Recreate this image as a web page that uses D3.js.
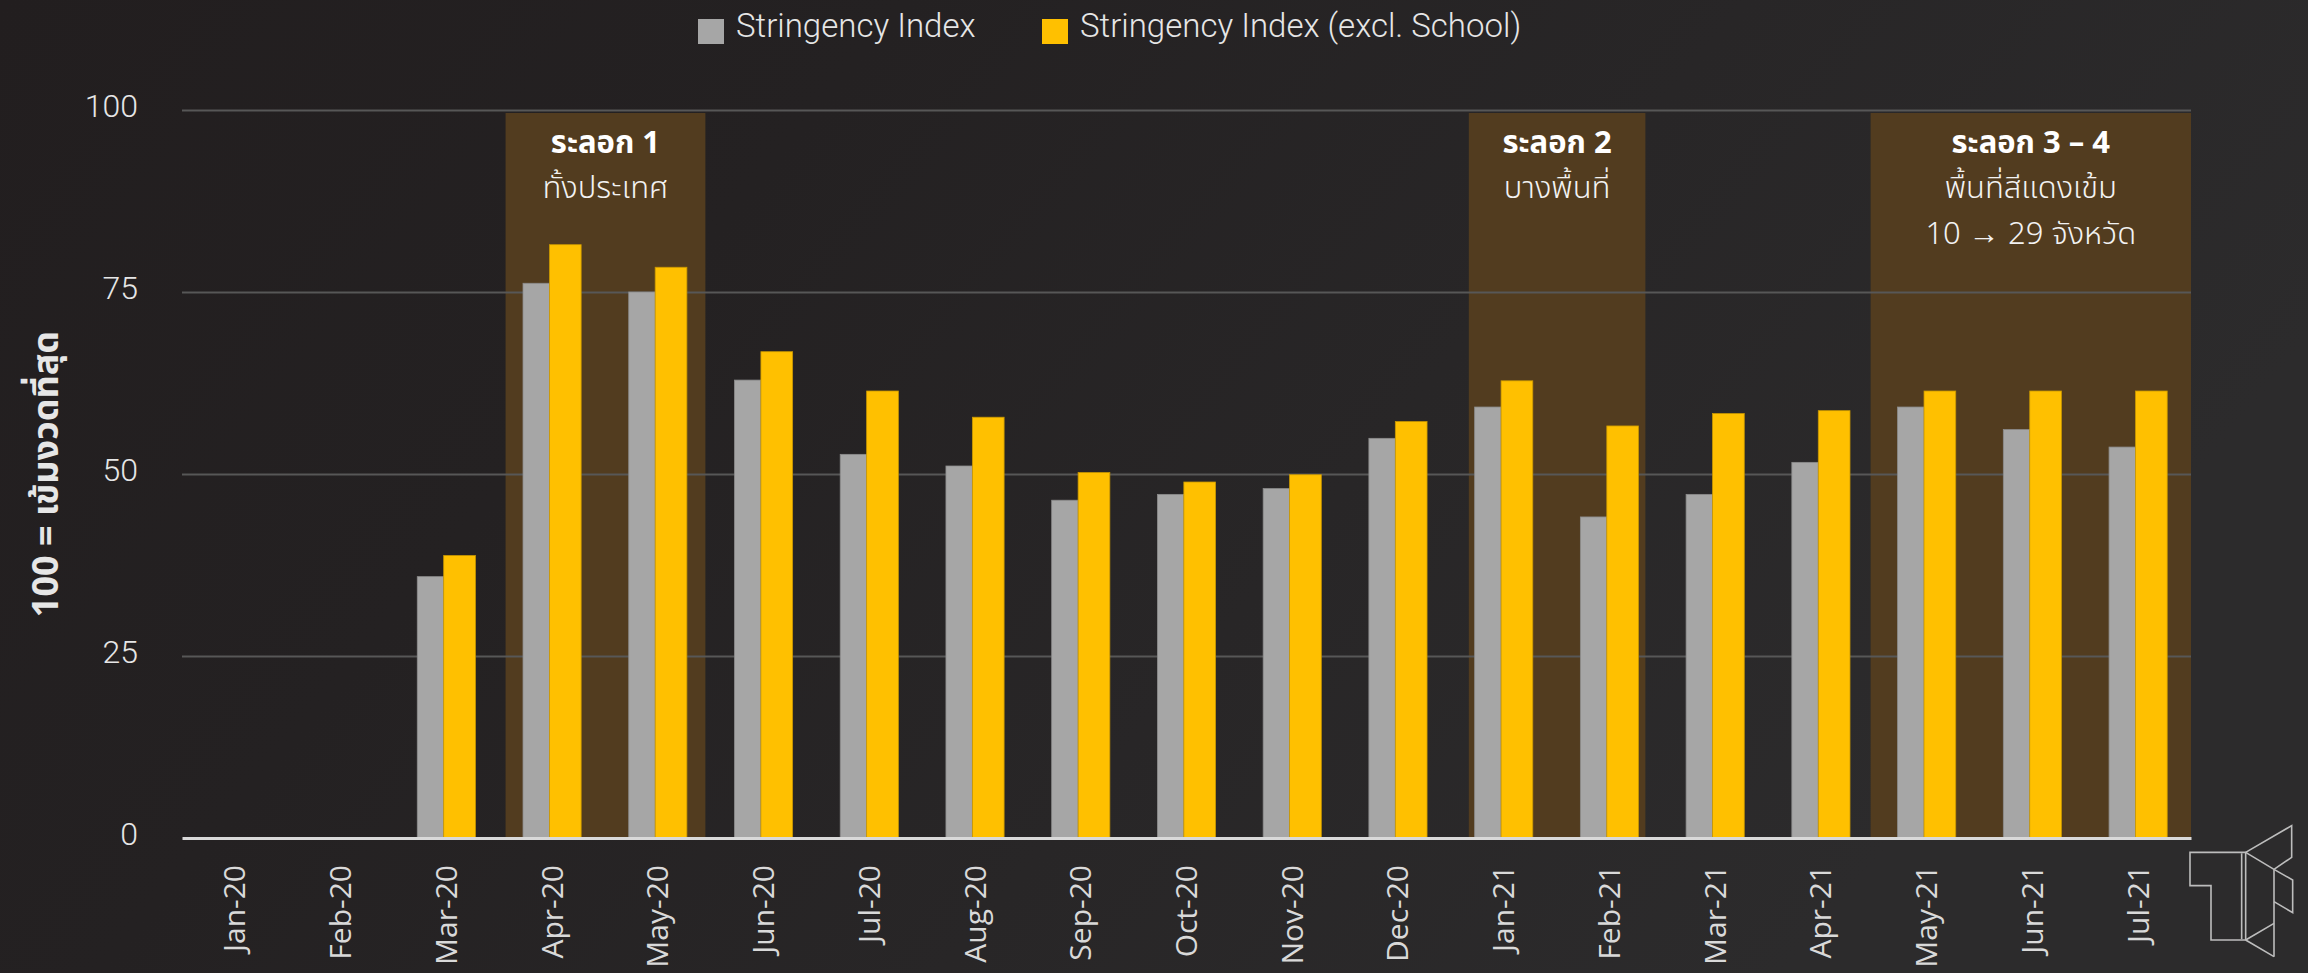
<!DOCTYPE html>
<html>
<head>
<meta charset="utf-8">
<script src="https://cdn.jsdelivr.net/npm/d3@7/dist/d3.min.js"></script>
<style>
  html, body { margin: 0; padding: 0; background: #232021; }
  svg { display: block; }
</style>
</head>
<body>
<script>
// ---------------- DATA ----------------
const months = ["Jan-20","Feb-20","Mar-20","Apr-20","May-20","Jun-20","Jul-20","Aug-20","Sep-20","Oct-20",
                "Nov-20","Dec-20","Jan-21","Feb-21","Mar-21","Apr-21","May-21","Jun-21","Jul-21"];
const stringencyIndex = [0,0,35.9,76.2,75.0,62.9,52.7,51.1,46.4,47.2,48.0,54.9,59.2,44.1,47.2,51.6,59.2,56.1,53.7];
const stringencyExclSchool = [0,0,38.8,81.5,78.4,66.8,61.4,57.8,50.2,48.9,49.9,57.2,62.8,56.6,58.3,58.7,61.4,61.4,61.4];
const seriesNames = ["Stringency Index", "Stringency Index (excl. School)"];
const yTicks = [0, 25, 50, 75, 100];
const yTitle = "100 = เข้มงวดที่สุด";
// lockdown waves: span in month-index units
const waveTitles = ["ระลอก 1", "ระลอก 2", "ระลอก 3 – 4"];
const waveSubtitles = [["ทั้งประเทศ"], ["บางพื้นที่"], ["พื้นที่สีแดงเข้ม", "10 → 29 จังหวัด"]];
const waveFrom = [3.06, 12.17, 15.97];
const waveTo = [4.95, 13.84, 19.0];

// ---------------- LAYOUT ----------------
const W = 2308, H = 973;
const plot = { left: 182, right: 2191, top: 110, bottom: 838 };
const colors = { grey: "#a6a6a6", yellow: "#ffc000", wave: "#523c1f" };
const thin = "Roboto, 'Noto Sans', sans-serif";
const thai = "'Noto Sans Thai', 'Noto Sans Thai Looped', Roboto, 'Noto Sans', sans-serif";

const svg = d3.select("body").append("svg").attr("width", W).attr("height", H);

const defs = svg.append("defs");
const grad = defs.append("linearGradient").attr("id", "bg")
  .attr("x1", "0").attr("y1", "0").attr("x2", "1").attr("y2", "0.35");
grad.append("stop").attr("offset", "0").attr("stop-color", "#221e1f");
grad.append("stop").attr("offset", "0.35").attr("stop-color", "#242122");
grad.append("stop").attr("offset", "1").attr("stop-color", "#2c2b2c");
svg.append("rect").attr("width", W).attr("height", H).attr("fill", "url(#bg)");

const x = d3.scaleBand().domain(months).range([plot.left, plot.right]).paddingInner(0).paddingOuter(0);
const xPos = d3.scaleLinear().domain([0, months.length]).range([plot.left, plot.right]);
const y = d3.scaleLinear().domain([0, 100]).range([plot.bottom, plot.top]);
const bw = x.bandwidth();

// wave shading
const waves = waveTitles.map((t, i) => ({ title: t, sub: waveSubtitles[i], from: waveFrom[i], to: waveTo[i] }));
const wg = svg.append("g");
wg.selectAll("rect").data(waves).join("rect")
  .attr("x", d => xPos(d.from))
  .attr("width", d => xPos(d.to) - xPos(d.from))
  .attr("y", y(100) + 3)
  .attr("height", d => y(0) - y(100) - 3)
  .attr("fill", colors.wave);

// gridlines
const yAxis = d3.axisLeft(y).tickValues(yTicks).tickSize(-(plot.right - plot.left)).tickFormat(d3.format("d")).tickPadding(44);
const ga = svg.append("g").attr("transform", `translate(${plot.left},0)`).call(yAxis);
ga.select(".domain").remove();
ga.selectAll(".tick line").attr("stroke", "#575757").attr("stroke-width", 2);
ga.selectAll(".tick text")
  .attr("fill", "#e6e6e6").attr("font-family", thin).attr("font-weight", 300)
  .attr("font-size", 32).attr("dy", "0.2em");
ga.selectAll(".tick").filter(d => d === 0).select("line").remove();

// bars
const series = [
  { name: seriesNames[0], values: stringencyIndex, color: colors.grey, stroke: "#8c8c8c", off: -0.275, w: 0.25 },
  { name: seriesNames[1], values: stringencyExclSchool, color: colors.yellow, stroke: "#c99700", off: -0.025, w: 0.3 }
];
series.forEach(s => {
  svg.append("g").selectAll("rect").data(months.map((m, i) => ({ m, v: s.values[i] })).filter(d => d.v > 0))
    .join("rect")
    .attr("x", d => x(d.m) + bw / 2 + s.off * bw)
    .attr("width", s.w * bw)
    .attr("y", d => y(d.v))
    .attr("height", d => y(0) - y(d.v))
    .attr("fill", s.color)
    .attr("stroke", s.stroke).attr("stroke-width", 0.8);
});

// x axis
const xAxis = d3.axisBottom(x).tickSize(0).tickPadding(0);
const gx = svg.append("g").attr("transform", `translate(0,${plot.bottom})`).call(xAxis);
gx.select(".domain").attr("stroke", "#d9d9d9").attr("stroke-width", 3);
gx.selectAll(".tick text")
  .attr("fill", "#d9d9d9").attr("font-family", "'Open Sans', 'Noto Sans', sans-serif")
  .attr("font-size", 30)
  .attr("text-anchor", "end")
  .attr("transform", "translate(0,27) rotate(-90)")
  .attr("x", 0).attr("y", 0).attr("dy", "0.35em");

// wave labels
const wl = svg.append("g");
waves.forEach(d => {
  const cx = (xPos(d.from) + xPos(d.to)) / 2;
  wl.append("text").attr("x", cx).attr("y", 153).attr("text-anchor", "middle")
    .attr("fill", "#ffffff").attr("font-family", thai).attr("font-weight", 700).attr("font-size", 31)
    .text(d.title);
  d.sub.forEach((s, j) => {
    wl.append("text").attr("x", cx).attr("y", 198 + j * 46).attr("text-anchor", "middle")
      .attr("fill", "#f2f2f2").attr("font-family", thai).attr("font-weight", 300).attr("font-size", 31)
      .text(s);
  });
});

// y title
svg.append("text")
  .attr("transform", `translate(58,${(plot.top + plot.bottom) / 2}) rotate(-90)`)
  .attr("text-anchor", "middle")
  .attr("fill", "#e6e6e6").attr("font-family", thai).attr("font-weight", 700).attr("font-size", 36)
  .text(yTitle);

// legend
const legendX = [698, 1042];
const lg = svg.append("g");
series.forEach((s, i) => {
  lg.append("rect").attr("x", legendX[i]).attr("y", 19).attr("width", 26).attr("height", 25).attr("fill", s.color);
  lg.append("text").attr("x", legendX[i] + 38).attr("y", 37)
    .attr("fill", "#e6e6e6").attr("font-family", thin).attr("font-weight", 300).attr("font-size", 33)
    .text(s.name);
});

// logo (decoration)
const logo = svg.append("g").attr("fill", "none").attr("stroke", "#bdbdbd").attr("stroke-width", 1.6)
  .attr("transform", "translate(2150,820)");
const P = (pts) => "M" + pts.map(p => p.map(v => v / 3).join(",")).join("L");
logo.append("path").attr("d", P([[120,97],[287,97],[287,360],[183,360],[183,197],[120,197]]) + "Z");
logo.append("path").attr("d", P([[275,100],[275,357]]));
logo.append("path").attr("d", P([[287,97],[425,17],[425,112],[372,148],[287,97]]));
logo.append("path").attr("d", P([[372,148],[372,410]]));
logo.append("path").attr("d", P([[372,148],[428,180],[428,278],[372,245]]));
logo.append("path").attr("d", P([[287,360],[372,310]]));
logo.append("path").attr("d", P([[287,360],[372,410]]));
</script>
</body>
</html>
